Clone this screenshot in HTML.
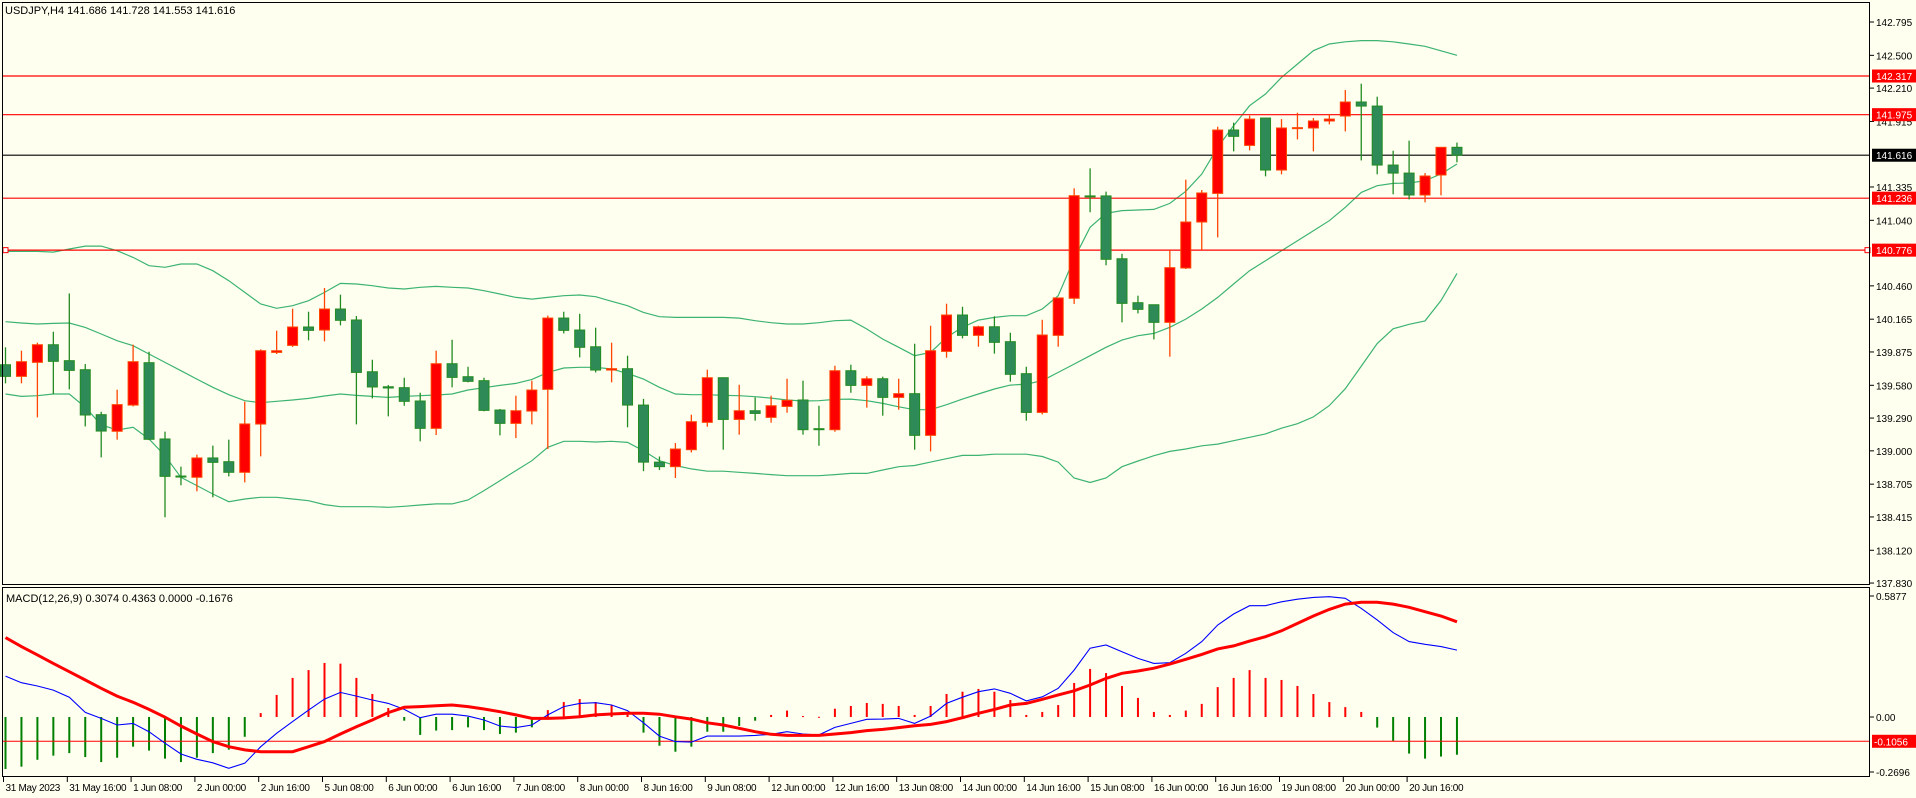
<!DOCTYPE html>
<html><head><meta charset="utf-8"><style>
html,body{margin:0;padding:0;background:#fffff0;}
svg{display:block;font-family:"Liberation Sans",sans-serif;font-size:11px;}
.ax{font-size:10px;}
.tl{font-size:10px;letter-spacing:-0.3px;}
</style></head><body>
<svg id="chart" width="1916" height="798" viewBox="0 0 1916 798" xmlns="http://www.w3.org/2000/svg">
<rect x="0" y="0" width="1916" height="798" fill="#fffff0"/>
<g id="bands"></g>
<g id="levels"></g>
<g id="candles"></g>
<g id="macd"></g>
<g id="axes"></g>
<rect x="2.5" y="2.5" width="1867" height="582" fill="none" stroke="#000" stroke-width="1"/>
<rect x="2.5" y="587.5" width="1867" height="189" fill="none" stroke="#000" stroke-width="1"/>
<text x="5" y="14" fill="#000">USDJPY,H4  141.686 141.728 141.553 141.616</text>
<text x="6" y="602" fill="#000">MACD(12,26,9) 0.3074 0.4363 0.0000 -0.1676</text>
</svg>
<script>
const openP=[139.762,139.659,139.783,139.939,139.798,139.718,139.320,139.173,139.405,139.780,139.105,138.777,138.766,138.937,138.904,138.810,139.237,139.871,139.933,140.096,140.069,140.255,140.158,139.700,139.567,139.559,139.441,139.199,139.771,139.656,139.621,139.361,139.243,139.352,139.544,140.175,140.069,139.921,139.715,139.727,139.405,138.90,138.86,139.010,139.252,139.647,139.278,139.355,139.296,139.393,139.450,139.196,139.187,139.709,139.579,139.638,139.473,139.506,139.137,139.880,140.202,140.022,140.098,139.966,139.683,139.340,140.022,140.35,141.256,141.256,140.700,140.311,140.293,140.137,140.618,141.025,141.278,141.839,141.703,141.945,141.485,141.857,141.857,141.919,141.963,142.087,142.051,141.529,141.458,141.264,141.441,141.686];
const highP=[139.916,139.886,139.957,140.054,140.393,139.768,139.346,139.541,139.939,139.877,139.170,138.860,138.966,139.046,139.099,139.435,139.898,140.063,140.258,140.231,140.441,140.382,140.193,139.806,139.582,139.647,139.514,139.886,139.983,139.744,139.647,139.370,139.488,139.621,140.196,140.231,140.213,140.090,139.957,139.842,139.46,138.95,139.069,139.320,139.718,139.650,139.585,139.473,139.488,139.638,139.621,139.399,139.753,139.762,139.659,139.656,139.638,139.948,140.107,140.302,140.275,140.107,140.190,140.045,139.744,140.160,140.353,141.323,141.500,141.294,140.744,140.373,140.293,140.777,141.400,141.308,141.868,141.904,141.966,141.945,141.936,141.992,141.945,141.981,142.193,142.249,142.134,141.656,141.745,141.458,141.686,141.728];
const lowP=[139.597,139.597,139.296,139.503,139.544,139.216,138.942,139.099,139.393,139.095,138.412,138.695,138.642,138.589,138.774,138.721,138.951,139.857,139.920,139.978,139.969,140.110,139.234,139.464,139.305,139.399,139.084,139.140,139.562,139.606,139.350,139.137,139.113,139.234,139.016,140.039,139.827,139.694,139.606,139.208,138.82,138.83,138.76,138.986,139.213,139.010,139.143,139.267,139.249,139.337,139.143,139.045,139.169,139.514,139.382,139.311,139.364,139.010,138.995,139.824,139.995,139.921,139.860,139.612,139.267,139.322,139.921,140.30,141.111,140.642,140.137,140.216,139.986,139.833,140.609,140.777,140.889,141.650,141.659,141.429,141.447,141.756,141.650,141.889,141.827,141.570,141.447,141.270,141.225,141.199,141.261,141.553];
const closeP=[139.659,139.789,139.939,139.792,139.712,139.317,139.175,139.409,139.789,139.102,138.774,138.771,138.937,138.898,138.810,139.238,139.886,139.886,140.096,140.066,140.255,140.155,139.694,139.565,139.556,139.438,139.199,139.771,139.650,139.615,139.358,139.243,139.355,139.538,140.175,140.066,139.916,139.715,139.727,139.405,138.90,138.86,139.016,139.258,139.647,139.278,139.355,139.331,139.399,139.447,139.187,139.187,139.709,139.579,139.638,139.473,139.506,139.137,139.886,140.202,140.022,140.098,139.960,139.677,139.340,140.025,140.353,141.258,141.250,140.695,140.305,140.252,140.137,140.621,141.025,141.282,141.839,141.783,141.936,141.485,141.857,141.860,141.919,141.936,142.087,142.051,141.529,141.458,141.264,141.432,141.686,141.616];
const upperBand=[140.765,140.765,140.765,140.759,140.786,140.812,140.812,140.771,140.712,140.638,140.624,140.653,140.653,140.594,140.506,140.402,140.299,140.261,140.284,140.329,140.402,140.482,140.476,140.461,140.441,140.432,140.447,140.455,140.447,140.441,140.417,140.388,140.358,140.343,140.358,140.373,140.379,140.364,140.323,140.284,140.225,140.187,140.181,140.181,140.181,140.181,140.175,140.152,140.134,140.122,140.122,140.134,140.152,140.157,140.078,139.989,139.916,139.842,139.871,140.004,140.093,140.157,140.181,140.196,140.196,140.255,140.373,140.70,140.978,141.102,141.126,141.131,141.137,141.190,141.297,141.450,141.686,141.877,142.054,142.158,142.305,142.423,142.541,142.60,142.62,142.63,142.63,142.62,142.60,142.58,142.54,142.50];
const middleBand=[140.143,140.131,140.122,140.128,140.131,140.092,140.034,139.975,139.930,139.857,139.783,139.709,139.635,139.562,139.497,139.444,139.426,139.438,139.450,139.464,139.485,139.503,139.491,139.482,139.473,139.482,139.488,139.494,139.503,139.538,139.559,139.579,139.597,139.632,139.694,139.733,139.739,139.739,139.724,139.685,139.635,139.562,139.503,139.497,139.497,139.491,139.488,139.479,139.467,139.450,139.441,139.444,139.455,139.458,139.444,139.420,139.390,139.364,139.364,139.408,139.458,139.503,139.547,139.582,139.591,139.621,139.694,139.768,139.842,139.916,139.980,140.019,140.039,140.093,140.166,140.255,140.358,140.476,140.594,140.683,140.771,140.860,140.948,141.037,141.155,141.287,141.346,141.367,141.370,141.391,141.450,141.538];
const lowerBand=[139.503,139.482,139.488,139.503,139.503,139.385,139.230,139.184,139.208,139.105,138.957,138.766,138.692,138.618,138.550,138.574,138.589,138.589,138.574,138.559,138.524,138.506,138.506,138.506,138.500,138.509,138.521,138.530,138.530,138.565,138.648,138.736,138.825,138.913,139.031,139.084,139.084,139.078,139.084,139.075,139.001,138.913,138.87,138.84,138.82,138.82,138.81,138.80,138.79,138.78,138.78,138.78,138.79,138.80,138.80,138.83,138.86,138.87,138.90,138.93,138.96,138.96,138.97,138.97,138.97,138.95,138.90,138.76,138.72,138.76,138.86,138.91,138.957,138.995,139.016,139.045,139.06,139.09,139.12,139.15,139.20,139.24,139.30,139.40,139.55,139.75,139.95,140.08,140.12,140.15,140.33,140.57];
const macdHist=[-0.226,-0.216,-0.186,-0.168,-0.157,-0.174,-0.196,-0.177,-0.129,-0.146,-0.181,-0.196,-0.177,-0.157,-0.142,-0.086,0.017,0.096,0.170,0.204,0.235,0.232,0.170,0.100,0.039,-0.016,-0.078,-0.059,-0.057,-0.045,-0.057,-0.074,-0.068,-0.045,0.030,0.065,0.078,0.065,0.052,0.016,-0.068,-0.125,-0.151,-0.129,-0.064,-0.064,-0.039,-0.016,0.009,0.028,0.004,0.001,0.036,0.048,0.061,0.057,0.048,0.009,0.048,0.100,0.110,0.122,0.110,0.074,0.009,0.022,0.052,0.148,0.209,0.191,0.135,0.083,0.022,0.009,0.028,0.057,0.130,0.170,0.204,0.170,0.161,0.135,0.100,0.065,0.043,0.022,-0.046,-0.104,-0.159,-0.181,-0.172,-0.164];
const macdBlue=[0.178,0.149,0.135,0.117,0.086,0.020,-0.006,-0.035,-0.028,-0.064,-0.114,-0.161,-0.184,-0.199,-0.223,-0.201,-0.129,-0.071,-0.020,0.030,0.078,0.107,0.091,0.074,0.059,0.033,-0.003,0.012,0.012,0.004,-0.013,-0.039,-0.046,-0.035,0.009,0.045,0.059,0.062,0.052,0.028,-0.025,-0.083,-0.107,-0.109,-0.083,-0.083,-0.083,-0.080,-0.075,-0.064,-0.074,-0.078,-0.045,-0.028,-0.010,-0.009,-0.006,-0.028,0.004,0.059,0.086,0.110,0.122,0.103,0.070,0.088,0.125,0.204,0.299,0.313,0.284,0.255,0.233,0.236,0.277,0.328,0.400,0.448,0.484,0.484,0.501,0.512,0.520,0.523,0.516,0.472,0.422,0.367,0.328,0.316,0.306,0.291];
const macdRed=[0.345,0.306,0.270,0.233,0.197,0.161,0.125,0.091,0.064,0.033,-0.001,-0.039,-0.074,-0.107,-0.129,-0.143,-0.151,-0.151,-0.151,-0.129,-0.107,-0.074,-0.042,-0.013,0.019,0.042,0.045,0.049,0.052,0.045,0.035,0.023,0.009,-0.006,-0.006,-0.004,0.001,0.009,0.013,0.016,0.016,0.012,0.001,-0.009,-0.025,-0.035,-0.049,-0.064,-0.075,-0.080,-0.080,-0.080,-0.074,-0.068,-0.059,-0.054,-0.046,-0.038,-0.032,-0.020,-0.003,0.016,0.033,0.052,0.059,0.077,0.096,0.114,0.139,0.168,0.190,0.200,0.212,0.230,0.251,0.272,0.296,0.309,0.330,0.349,0.375,0.407,0.439,0.468,0.491,0.499,0.499,0.491,0.477,0.458,0.439,0.414];
const priceTicks=["142.795","142.500","142.210","141.915","141.335","141.040","140.460","140.165","139.875","139.580","139.290","139.000","138.705","138.415","138.120","137.830"];
const levelValues=[142.317,141.975,141.236,140.776];
const lastPrice=141.616;
const macdTicks=["0.5877","0.00","-0.2696"];
const macdLevel=-0.1056;
const timeLabels=["31 May 2023","31 May 16:00","1 Jun 08:00","2 Jun 00:00","2 Jun 16:00","5 Jun 08:00","6 Jun 00:00","6 Jun 16:00","7 Jun 08:00","8 Jun 00:00","8 Jun 16:00","9 Jun 08:00","12 Jun 00:00","12 Jun 16:00","13 Jun 08:00","14 Jun 00:00","14 Jun 16:00","15 Jun 08:00","16 Jun 00:00","16 Jun 16:00","19 Jun 08:00","20 Jun 00:00","20 Jun 16:00"];

const NS="http://www.w3.org/2000/svg";
function mk(tag,attrs,parent){const e=document.createElementNS(NS,tag);for(const k in attrs)e.setAttribute(k,attrs[k]);parent.appendChild(e);return e;}
const xAt=i=>5.5+15.95*i;
const yP=p=>22+(142.795-p)*113;
const yM=v=>717-v*230;

const gB=document.getElementById('bands');
[[upperBand,'upper-band'],[middleBand,'middle-band'],[lowerBand,'lower-band']].forEach(([arr,name])=>{
  const pl=mk('polyline',{points:arr.map((v,i)=>xAt(i).toFixed(1)+','+yP(v).toFixed(1)).join(' '),fill:'none',stroke:'#3cb371','stroke-width':1.2},gB);
  
  
});

const gL=document.getElementById('levels');
levelValues.forEach(v=>{
  const ln=mk('line',{x1:3,x2:1869,y1:yP(v).toFixed(1),y2:yP(v).toFixed(1),stroke:'#ff0000','stroke-width':1.2},gL);
  
  
});
const lp=mk('line',{x1:3,x2:1869,y1:yP(lastPrice).toFixed(1),y2:yP(lastPrice).toFixed(1),stroke:'#000','stroke-width':1.2},gL);


[3,1865].forEach(x=>{
  const sq=mk('rect',{x:x,y:yP(140.776)-2.5,width:5,height:5,fill:'#fff',stroke:'#ff0000','stroke-width':1},gL);
  
  
});

const gC=document.getElementById('candles');
for(let i=0;i<openP.length;i++){
  const up=closeP[i]>=openP[i];
  const x=xAt(i);
  const g=mk('g',{},gC);
  
  
  mk('line',{x1:x,x2:x,y1:yP(highP[i]),y2:yP(lowP[i]),stroke:up?'#ff4500':'#228b22','stroke-width':1.3},g);
  const t=yP(Math.max(openP[i],closeP[i])),b=yP(Math.min(openP[i],closeP[i]));
  const h=Math.max(b-t,1);
  mk('rect',{x:x-5,y:t,width:10,height:h,fill:up?'#ff0000':'#2e8b57',stroke:up?'#ff4500':'#228b22','stroke-width':1},g);
}

const gM=document.getElementById('macd');
macdHist.forEach((v,i)=>{
  const x=xAt(i);
  const r=mk('rect',{x:x-1,y:Math.min(yM(0),yM(v)),width:2,height:Math.max(Math.abs(yM(v)-yM(0)),1),fill:v>=0?'#ff0000':'#008000'},gM);
  
  
});
const ml=mk('line',{x1:3,x2:1869,y1:yM(macdLevel),y2:yM(macdLevel),stroke:'#ff0000','stroke-width':1},gM);


const bl=mk('polyline',{points:macdBlue.map((v,i)=>xAt(i).toFixed(1)+','+yM(v).toFixed(1)).join(' '),fill:'none',stroke:'#0000ff','stroke-width':1.1},gM);


const rl=mk('polyline',{points:macdRed.map((v,i)=>xAt(i).toFixed(1)+','+yM(v).toFixed(1)).join(' '),fill:'none',stroke:'#ff0000','stroke-width':3},gM);



const gA=document.getElementById('axes');
priceTicks.forEach(s=>{
  const y=yP(parseFloat(s));
  mk('line',{x1:1870,x2:1874,y1:y,y2:y,stroke:'#000'},gA);
  const t=mk('text',{x:1876,y:y+4,fill:'#000',class:'ax'},gA);
  t.textContent=s;
  
  
});
function tag(v,bg,name){
  const y=yP(v);
  const r=mk('rect',{x:1872,y:y-6.5,width:44,height:13,fill:bg},gA);
  
  
  const t=mk('text',{x:1876,y:y+4,fill:'#fff',class:'ax'},gA);
  t.textContent=v.toFixed(3);
  
  
}
levelValues.forEach(v=>tag(v,'#ff0000','level-price-tag'));
tag(lastPrice,'#000','last-price-tag');
[[macdTicks[0],596],[macdTicks[1],yM(0)],[macdTicks[2],772]].forEach(([s,y])=>{
  mk('line',{x1:1870,x2:1874,y1:y,y2:y,stroke:'#000'},gA);
  const t=mk('text',{x:1876,y:y+4,fill:'#000',class:'ax'},gA);
  t.textContent=s;
  
  
});
{
  const y=yM(macdLevel);
  const r=mk('rect',{x:1872,y:y-6.5,width:44,height:13,fill:'#ff0000'},gA);
  
  
  const t=mk('text',{x:1874,y:y+4,fill:'#fff',class:'ax'},gA);
  t.textContent=macdLevel.toFixed(4);
  
  
}
timeLabels.forEach((s,j)=>{
  const x=xAt(j*4)-2;
  mk('line',{x1:x,x2:x,y1:777,y2:782,stroke:'#000'},gA);
  const t=mk('text',{x:x+2,y:791,fill:'#000',class:'tl'},gA);
  t.textContent=s;
  
  
});
</script>
</body></html>
